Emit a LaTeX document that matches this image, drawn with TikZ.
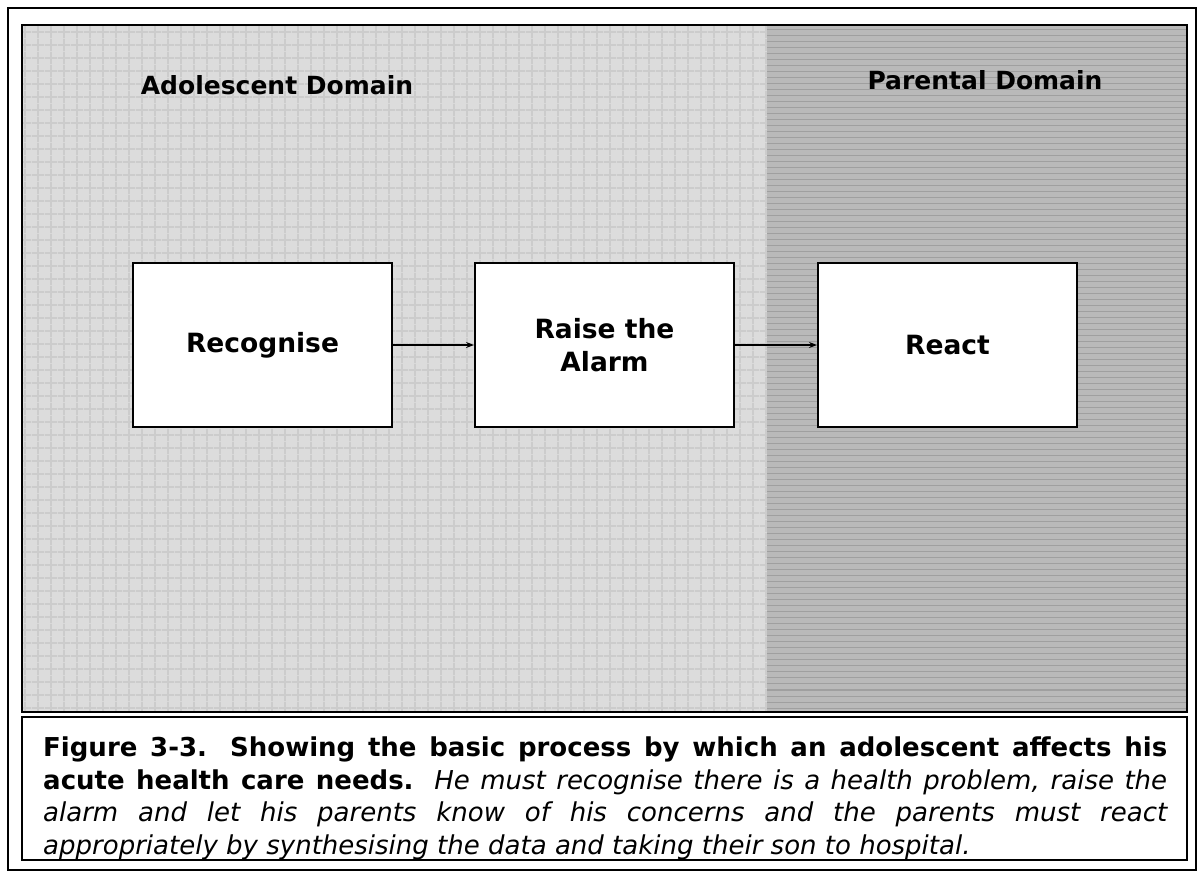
\documentclass[tikz,border=0pt]{standalone}
\usepackage{fontspec}
\setmainfont{DejaVu Sans}
\usetikzlibrary{patterns.meta,arrows.meta}
\definecolor{leftbg}{RGB}{220,220,220}
\definecolor{rightbg}{RGB}{185,185,185}
\tikzset{
  procbox/.style={draw=black,line width=2pt,fill=white,minimum width=259pt,minimum height=164pt,align=center,font=\fontsize{26.5}{33}\selectfont\bfseries},
  header/.style={font=\fontsize{25}{30}\selectfont\bfseries},
  conn/.style={-{Stealth[length=8pt,width=6pt]},line width=1.2pt}
}
\begin{document}
\begin{tikzpicture}[x=1pt,y=-1pt]
\useasboundingbox (0,0) rectangle (1202,876);
\fill[white] (0,0) rectangle (1202,876);
% outer frame
\draw[line width=2.5pt] (8,8) rectangle (1196,870);
% domains
\fill[leftbg] (22,25) rectangle (767,712);
\fill[pattern={Hatch[angle=0,distance=13pt,line width=2pt]},pattern color=gray!40] (22,25) rectangle (767,712);
\fill[rightbg] (767,25) rectangle (1187,712);
\fill[pattern={Lines[angle=0,distance=6pt,line width=1pt]},pattern color=gray!75] (767,25) rectangle (1187,712);
\draw[line width=2pt] (22,25) rectangle (1187,712);
% headers
\node[header] (adol) at (277,85) {Adolescent Domain};
\node[header] (par) at (985,80) {Parental Domain};
% boxes
\node[procbox] (rec) at (262.5,345) {Recognise};
\node[procbox] (raise) at (604.5,345) {Raise the\\Alarm};
\node[procbox] (react) at (947.5,345) {React};
\draw[conn] (rec.east) -- (raise.west);
\draw[conn] (raise.east) -- (react.west);
% caption
\draw[line width=1.5pt,fill=white] (22,717) rectangle (1187,860);
\node[anchor=north west,inner sep=0pt] (cap) at (43,737) {\begin{minipage}[t]{1124pt}\fontsize{26}{32.5}\selectfont\hfuzz=30pt
{\bfseries Figure 3-3. Showing the basic process by which an adolescent affects his\linebreak acute health care needs.}\ \ \textit{He must recognise there is a health problem, raise the\linebreak alarm and let his parents know of his concerns and the parents must react\linebreak appropriately by synthesising the data and taking their son to hospital.}\end{minipage}};
\end{tikzpicture}
\end{document}
